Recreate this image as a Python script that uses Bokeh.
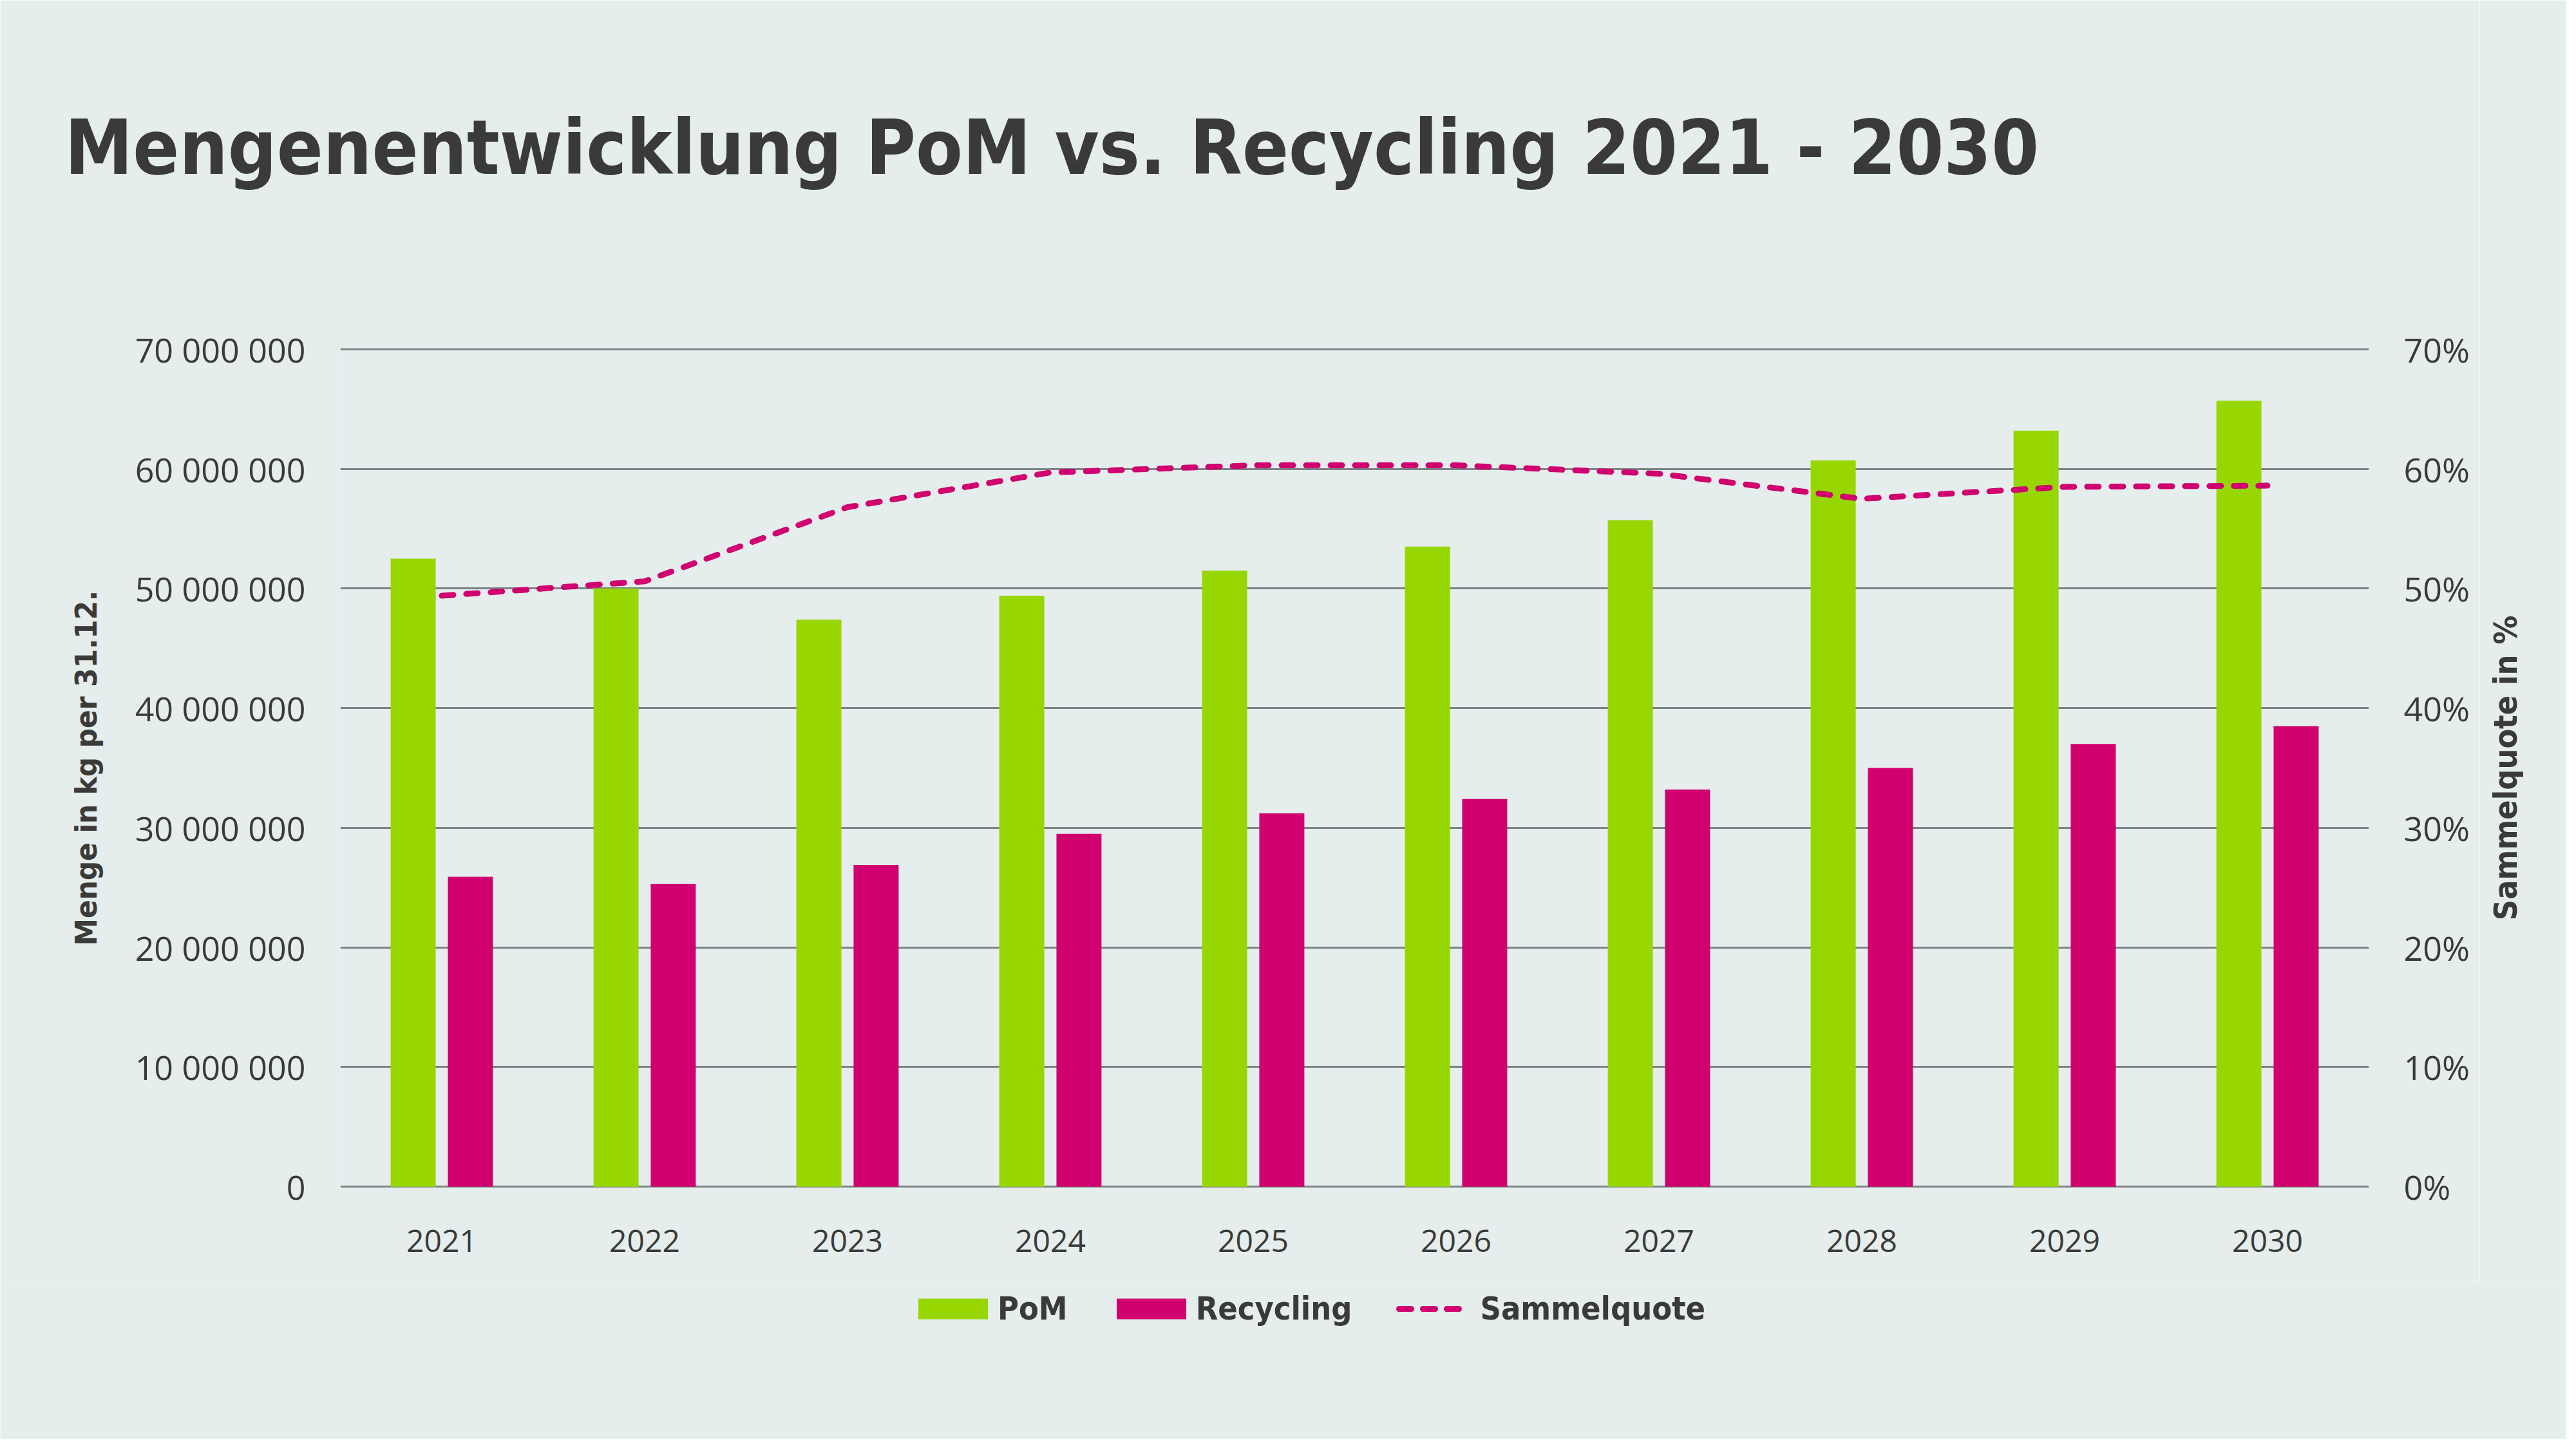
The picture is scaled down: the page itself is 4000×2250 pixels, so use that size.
import math
from bokeh.plotting import figure
from bokeh.layouts import column, row
from bokeh.models import (Range1d, FactorRange, LinearAxis, FixedTicker, Legend,
                          LegendItem, ColumnDataSource, Title)
from bokeh.transform import dodge
from bokeh.core.properties import value
from bokeh.embed import file_html
from bokeh.resources import INLINE

# ---------------- data ----------------
years = ["2021", "2022", "2023", "2024", "2025", "2026", "2027", "2028", "2029", "2030"]
pom = [52.5e6, 50.0e6, 47.4e6, 49.4e6, 51.5e6, 53.5e6, 55.7e6, 60.7e6, 63.2e6, 65.7e6]
recycling = [25.9e6, 25.3e6, 26.9e6, 29.5e6, 31.2e6, 32.4e6, 33.2e6, 35.0e6, 37.0e6, 38.5e6]
sammelquote = [49.4, 50.6, 56.8, 59.7, 60.3, 60.3, 59.6, 57.5, 58.5, 58.6]  # percent

left_ticks = [0, 10000000, 20000000, 30000000, 40000000, 50000000, 60000000, 70000000]
left_tick_labels = ["0", "10 000 000", "20 000 000", "30 000 000", "40 000 000",
                    "50 000 000", "60 000 000", "70 000 000"]
right_ticks = [0, 10, 20, 30, 40, 50, 60, 70]
right_tick_labels = ["0%", "10%", "20%", "30%", "40%", "50%", "60%", "70%"]

title_text = "Mengenentwicklung PoM vs. Recycling 2021 - 2030"
left_label = "Menge in kg per 31.12."
right_label = "Sammelquote in %"
series_names = ["PoM", "Recycling", "Sammelquote"]

# ---------------- style ----------------
BG = "#e5eded"
GREEN = "#98d600"
MAGENTA = "#d0006f"
TEXT = "#3a3b38"
GRID = "#7a8383"
TICK_FONT = "Open Sans"
BOLD_FONT = "DejaVu Sans Condensed"
DASH = "18 20"
LEGEND_DASH = "19 18 19 18 19 200"

W = 3984
WP = 3850               # main chart width
WR = W - WP             # strip for the right axis title
H_MAIN = 1990
H_LEG = 2234 - H_MAIN
FL, FR = 528, 3678
PAD = 0.1e6                       # tiny range padding so edge grid lines are drawn
PX_PER_UNIT = 1300 / 70e6
pad_px = PAD * PX_PER_UNIT
FT = 542 - pad_px
FB = 1842 + pad_px

source = ColumnDataSource(dict(year=years, pom=pom, recycling=recycling, quote=sammelquote))

p = figure(width=WP, height=H_MAIN, x_range=FactorRange(*years, range_padding=0),
           y_range=Range1d(left_ticks[0] - PAD, left_ticks[-1] + PAD),
           output_backend="svg", toolbar_location=None,
           min_border_left=FL, min_border_right=WP - FR,
           min_border_top=int(round(FT)), min_border_bottom=int(round(H_MAIN - FB)),
           background_fill_color=BG, border_fill_color=BG, outline_line_color=None)
p.extra_y_ranges = {"pct": Range1d(right_ticks[0] - PAD / 1e6, right_ticks[-1] + PAD / 1e6)}

r_pom = p.vbar(x=dodge("year", -0.141, range=p.x_range), top="pom", width=0.222,
               source=source, fill_color=GREEN, line_color=None)
r_rec = p.vbar(x=dodge("year", 0.141, range=p.x_range), top="recycling", width=0.222,
               source=source, fill_color=MAGENTA, line_color=None)
r_q = p.line(x="year", y="quote", source=source, y_range_name="pct",
             line_color=MAGENTA, line_width=9, line_dash=DASH, line_cap="round")

# grid
p.xgrid.grid_line_color = None
p.ygrid.ticker = FixedTicker(ticks=left_ticks)
p.ygrid.grid_line_color = GRID
p.ygrid.grid_line_width = 3
p.ygrid.level = "underlay"

# left axis
ya = p.yaxis[0]
ya.ticker = FixedTicker(ticks=left_ticks)
ya.major_label_overrides = dict(zip(left_ticks, left_tick_labels))
ya.axis_label = left_label
ya.axis_label_standoff = 46

# right axis
ra = LinearAxis(y_range_name="pct", ticker=FixedTicker(ticks=right_ticks))
ra.major_label_overrides = dict(zip(right_ticks, right_tick_labels))
p.add_layout(ra, "right")

for ax in [ya, ra]:
    ax.axis_line_color = None
    ax.major_tick_line_color = None
    ax.minor_tick_line_color = None
    ax.major_tick_out = 0
    ax.major_tick_in = 0
    ax.major_label_standoff = 54
    ax.major_label_text_font = TICK_FONT
    ax.major_label_text_font_size = "52px"
    ax.major_label_text_color = TEXT
    ax.axis_label_text_font = BOLD_FONT
    ax.axis_label_text_font_size = "47px"
    ax.axis_label_text_font_style = "bold"
    ax.axis_label_text_color = TEXT

xa = p.xaxis[0]
xa.axis_line_color = None
xa.major_tick_line_color = None
xa.minor_tick_line_color = None
xa.major_tick_out = 0
xa.major_tick_in = 0
xa.major_label_standoff = 65
xa.major_label_text_font = TICK_FONT
xa.major_label_text_font_size = "48px"
xa.major_label_text_color = TEXT

# title: a thin spacer next to the frame, the real title stacked above it
spacer = Title(text=" ", text_font_size="1px", standoff=240)
p.add_layout(spacer, "above")
title = Title(text=title_text, align="left", offset=100 - FL, standoff=0,
              text_font=BOLD_FONT, text_font_size="118px", text_font_style="bold",
              text_color=TEXT)
p.add_layout(title, "above")

# ---------------- right axis title strip ----------------
rf = figure(width=WR, height=H_MAIN, x_range=Range1d(0, 1), y_range=Range1d(0, 1),
            output_backend="svg", toolbar_location=None, min_border=0,
            background_fill_color=BG, border_fill_color=BG, outline_line_color=None)
rf.axis.visible = False
rf.grid.visible = False
rf.text(x=[0.3], y=[0.5], text=[right_label], angle=math.pi / 2,
        text_align="center", text_baseline="middle", text_font=value(BOLD_FONT),
        text_font_style="bold", text_font_size="50px", text_color=TEXT)

# ---------------- legend strip below the chart ----------------
lf = figure(width=W, height=H_LEG, x_range=Range1d(0, 1), y_range=Range1d(0, 1),
            output_backend="svg", toolbar_location=None, min_border=0,
            background_fill_color=BG, border_fill_color=BG, outline_line_color=None)
lf.axis.visible = False
lf.grid.visible = False
off = ColumnDataSource(dict(x=[-5], top=[-5]))   # outside the strip: only carries legend styles
l_pom = lf.vbar(x="x", top="top", width=0.1, source=off, fill_color=GREEN, line_color=None)
l_rec = lf.vbar(x="x", top="top", width=0.1, source=off, fill_color=MAGENTA, line_color=None)
l_q = lf.line(x="x", y="top", source=off, line_color=MAGENTA, line_width=9,
              line_dash=LEGEND_DASH, line_dash_offset=283, line_cap="round")

legend = Legend(items=[LegendItem(label=series_names[0], renderers=[l_pom]),
                       LegendItem(label=series_names[1], renderers=[l_rec]),
                       LegendItem(label=series_names[2], renderers=[l_q])],
                orientation="horizontal", location=(1412, 173),
                glyph_width=135, glyph_height=40, label_standoff=2, spacing=62,
                padding=0, margin=0, border_line_color=None, background_fill_alpha=0,
                label_text_font=BOLD_FONT, label_text_font_size="50px",
                label_text_font_style="bold", label_text_color=TEXT)
lf.add_layout(legend, "center")

layout = column(row(p, rf, spacing=0), lf, spacing=0)
html = file_html(layout, INLINE)
html = html.replace("<body>", '<body style="background-color: %s;">' % BG, 1)
open("out.html", "w").write(html)
